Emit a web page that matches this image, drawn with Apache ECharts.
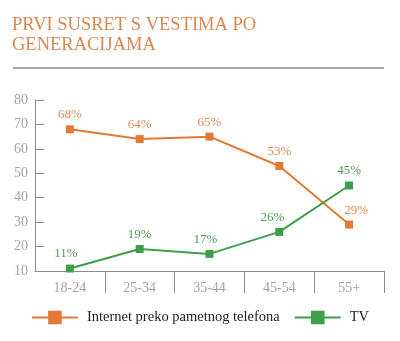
<!DOCTYPE html>
<html>
<head>
<meta charset="utf-8">
<style>
  html, body { margin: 0; padding: 0; background: #fff; }
  #chart { width: 400px; height: 341px; }
</style>
<script src="https://cdn.jsdelivr.net/npm/echarts@6/dist/echarts.min.js"></script>
</head>
<body>
<div id="chart"></div>
<script>
// Age groups and share (%) of respondents by first news source
const categories = ['18-24', '25-34', '35-44', '45-54', '55+'];
const internetPhone = [68, 64, 65, 53, 29];
const tv = [11, 19, 17, 26, 45];
const yTicks = { min: 10, max: 80, interval: 10 };

const SERIF = '"Liberation Serif", "DejaVu Serif", serif';
const ORANGE = '#e27a35';
const ORANGE_TXT = '#e08b55';
const GREEN = '#3f9e4b';
const GREEN_TXT = '#4d9a57';

// small horizontal nudges so labels don't collide with the lines
const internetLabelShift = [0, 0, 0, 0, 7];
const tvLabelShift = [-4, 0, -4, -7, 0];

function withLabels(values, shifts) {
  return values.map((v, i) => ({ value: v, label: { offset: [shifts[i], 0] } }));
}

const chart = echarts.init(document.getElementById('chart'), null, { renderer: 'canvas' });
chart.setOption({
  animation: false,
  backgroundColor: '#fff',
  title: {
    text: 'PRVI SUSRET S VESTIMA PO\nGENERACIJAMA',
    left: 12,
    top: 15,
    padding: 0,
    textStyle: { fontFamily: SERIF, fontSize: 18.5, fontWeight: 'normal', color: '#dc8650', lineHeight: 20 }
  },
  graphic: [{
    type: 'line',
    shape: { x1: 13, y1: 68, x2: 384, y2: 68 },
    style: { stroke: '#aaaaaa', lineWidth: 2 }
  }],
  grid: { left: 35, right: 16, top: 100, bottom: 70 },
  legend: {
    bottom: 11,
    left: 'center',
    itemWidth: 46,
    itemHeight: 17,
    itemGap: 14,
    textStyle: { fontFamily: SERIF, fontSize: 14.5, color: '#1e1e1e', padding: [0, 0, 0, 4] },
    data: ['Internet preko pametnog telefona', 'TV']
  },
  xAxis: {
    type: 'category',
    data: categories,
    boundaryGap: true,
    axisLine: { lineStyle: { color: '#8c8c8c', width: 1 } },
    axisTick: { show: true, length: 22, lineStyle: { color: '#8c8c8c' },
                interval: (index) => index !== 0 },
    axisLabel: { fontFamily: SERIF, fontSize: 14, color: '#a4a4a4', margin: 10 }
  },
  yAxis: {
    type: 'value',
    min: yTicks.min,
    max: yTicks.max,
    interval: yTicks.interval,
    splitLine: { show: false },
    axisLine: { show: true, lineStyle: { color: '#8c8c8c', width: 1 } },
    axisTick: { show: true, inside: true, length: 9, lineStyle: { color: '#8c8c8c' } },
    axisLabel: { fontFamily: SERIF, fontSize: 14, color: '#a4a4a4', margin: 7 }
  },
  series: [
    {
      name: 'Internet preko pametnog telefona',
      type: 'line',
      data: withLabels(internetPhone, internetLabelShift),
      symbol: 'rect',
      symbolSize: 8,
      itemStyle: { color: ORANGE },
      lineStyle: { color: ORANGE, width: 2 },
      label: { show: true, position: 'top', distance: 4, formatter: '{c}%',
               fontFamily: SERIF, fontSize: 13, color: ORANGE_TXT }
    },
    {
      name: 'TV',
      type: 'line',
      data: withLabels(tv, tvLabelShift),
      symbol: 'rect',
      symbolSize: 8,
      itemStyle: { color: GREEN },
      lineStyle: { color: GREEN, width: 2 },
      label: { show: true, position: 'top', distance: 4, formatter: '{c}%',
               fontFamily: SERIF, fontSize: 13, color: GREEN_TXT }
    }
  ]
});
</script>
</body>
</html>
